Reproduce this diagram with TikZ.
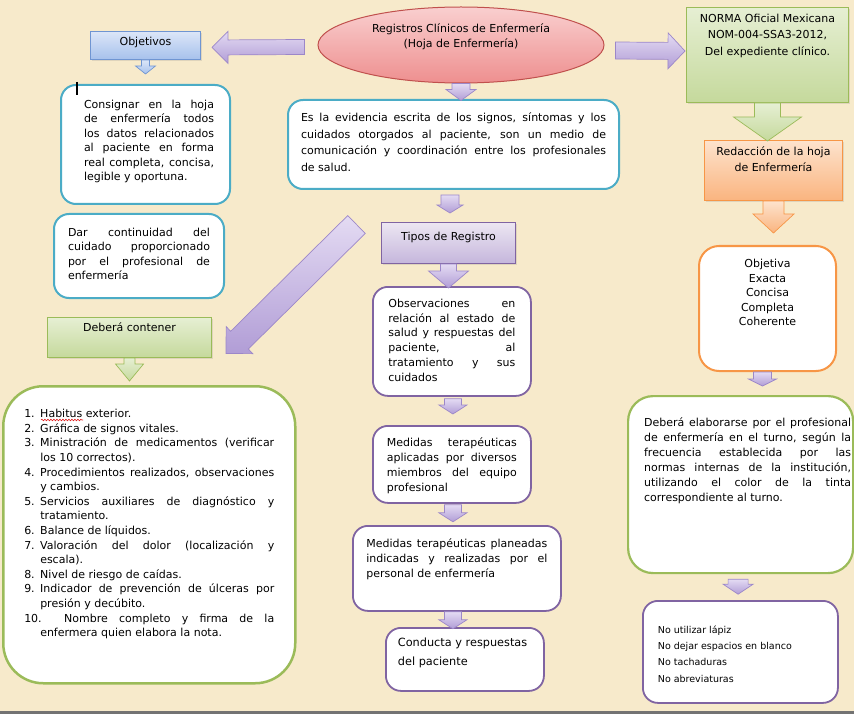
\documentclass[tikz,border=0pt]{standalone}
\usepackage{fontspec}
\setmainfont{DejaVu Sans}
\usetikzlibrary{shapes.geometric,calc,shadows,decorations.pathmorphing}

\definecolor{bg}{HTML}{F7EACB}
\definecolor{tealline}{HTML}{4BACC6}
\definecolor{purpline}{HTML}{8064A2}
\definecolor{greenline}{HTML}{9BBB59}
\definecolor{orangeline}{HTML}{F79646}
\definecolor{blueline}{HTML}{6F95D2}
\definecolor{redline}{HTML}{C0504D}
\definecolor{arrowtop}{HTML}{E4DBF3}
\definecolor{arrowbot}{HTML}{B19DD6}
\definecolor{arrowline}{HTML}{9C87C9}
\definecolor{bluetop}{HTML}{DCE6F8}
\definecolor{bluebot}{HTML}{A6C1EC}
\definecolor{greentop}{HTML}{E6EFD3}
\definecolor{greenbot}{HTML}{C5D99C}
\definecolor{orangetop}{HTML}{FDE3CD}
\definecolor{orangebot}{HTML}{FAB47F}
\definecolor{purptop}{HTML}{ECE6F2}
\definecolor{purpbot}{HTML}{C5B6DC}
\definecolor{redtop}{HTML}{F9CFCF}
\definecolor{redbot}{HTML}{EE8F8F}
\definecolor{spell}{HTML}{E02020}

\pretolerance=10000
\tolerance=10000
\hbadness=10000

\newcommand{\boxpar}[4][0]{\hspace*{#1pt}\parbox[c][#3pt][t]{#2pt}{#4}}
\newcommand{\litem}[1]{\par\hangindent=16pt\hangafter=1\noindent\makebox[16pt][l]{#1}}
\newcommand{\blockarrow}[6]{%
  \coordinate (ba-a) at #2;
  \coordinate (ba-b) at #3;
  \coordinate (ba-h) at ($(ba-b)!#6pt!(ba-a)$);
  \path[#1] ($(ba-a)!#4pt!90:(ba-b)$) -- ($(ba-h)!#4pt!90:(ba-b)$)
    -- ($(ba-h)!#5pt!90:(ba-b)$) -- (ba-b) -- ($(ba-h)!#5pt!-90:(ba-b)$)
    -- ($(ba-h)!#4pt!-90:(ba-b)$) -- ($(ba-a)!#4pt!-90:(ba-b)$) -- cycle;}

\tikzset{
  x=1pt, y=-1pt,
  box/.style={anchor=north west, inner sep=0pt, font=\fontsize{11}{14.5}\selectfont},
  tealbox/.style={box, draw=tealline, line width=2, fill=white, rounded corners=15},
  purpbox/.style={box, draw=purpline, line width=1.8, fill=white, rounded corners=15},
  greenbox/.style={box, draw=greenline, line width=2.2, fill=white, rounded corners=25},
  orangebox/.style={box, draw=orangeline, line width=2, fill=white, rounded corners=20},
  titled/.style={box, line width=1, font=\fontsize{11}{15}\selectfont,
    drop shadow={opacity=0.2, shadow xshift=1.5pt, shadow yshift=-1.5pt}},
  bluefill/.style={titled, draw=blueline, top color=bluetop, bottom color=bluebot},
  greenfill/.style={titled, draw=greenline, top color=greentop, bottom color=greenbot},
  orangefill/.style={titled, draw=orangeline, top color=orangetop, bottom color=orangebot},
  purpfill/.style={titled, draw=purpline, top color=purptop, bottom color=purpbot},
  parr/.style={draw=arrowline, line width=0.7, top color=arrowtop, bottom color=arrowbot},
  barr/.style={draw=blueline, line width=0.7, top color=bluetop, bottom color=bluebot},
  garr/.style={draw=greenline, line width=0.7, top color=greentop, bottom color=greenbot},
  oarr/.style={draw=orangeline, line width=0.7, top color=orangetop, bottom color=orangebot},
  spellmark/.style={draw=spell, line width=0.6, decorate,
    decoration={snake, amplitude=0.8pt, segment length=3pt}}
}

\begin{document}
\begin{tikzpicture}
\useasboundingbox (0,0) rectangle (854,714);
\fill[bg] (0,0) rectangle (854,711);
\fill[black!55] (0,711) rectangle (854,714);

\node[ellipse, draw=redline, line width=1, top color=redtop, bottom color=redbot,
  minimum width=286, minimum height=76, inner sep=0pt] (reg) at (461,45) {};
\node[font=\fontsize{11}{15}\selectfont, align=center] (reg-t) at (461,37)
  {Registros Clínicos de Enfermería\\(Hoja de Enfermería)};

\node[bluefill, inner xsep=5, inner ysep=6] (obj) at (90,31)
  {\boxpar{100}{16}{\centering Objetivos}};
\node[greenfill, inner xsep=5, inner ysep=6.5, font=\fontsize{11}{16.5}\selectfont] (norma) at (686,7)
  {\boxpar{152}{82}{\centering NORMA Oficial Mexicana\\NOM-004-SSA3-2012,\\Del expediente clínico.}};
\node[orangefill, inner xsep=5, inner ysep=6.6, font=\fontsize{11}{16}\selectfont] (redac) at (704,140)
  {\boxpar{128}{46.8}{\centering Redacción de la hoja\\de Enfermería}};
\node[orangebox, inner xsep=5, inner ysep=13.6, font=\fontsize{11}{14.5}\selectfont] (objv) at (698,245)
  {\boxpar{127}{97.8}{\centering Objetiva\\Exacta\\Concisa\\Completa\\Coherente}};
\node[greenbox, inner xsep=2, inner ysep=22, font=\fontsize{11}{15}\selectfont] (deb) at (627,395)
  {\boxpar[14]{207}{133}{Deberá elaborarse por el profesional\linebreak de enfermería en el turno, según la\linebreak
   frecuencia establecida por las\linebreak normas internas de la institución,\linebreak
   utilizando el color de la tinta\linebreak correspondiente al turno.}};
\node[purpbox, inner xsep=15, inner ysep=24.7, font=\fontsize{9.5}{16.3}\selectfont] (noes) at (642,600)
  {\boxpar{165}{52.6}{\raggedright No utilizar lápiz\\No dejar espacios en blanco\\No tachaduras\\No abreviaturas}};

\node[tealbox, inner xsep=13, inner ysep=13, font=\fontsize{11}{16.5}\selectfont] (evid) at (287,99)
  {\boxpar{305}{63}{Es la evidencia escrita de los signos, síntomas y los\linebreak
   cuidados otorgados al paciente, son un medio de\linebreak
   comunicación y coordinación entre los profesionales\linebreak de salud.}};
\node[purpfill, inner xsep=5, inner ysep=9.6] (tipos) at (381,222)
  {\boxpar{124}{21.8}{\centering Tipos de Registro}};
\node[purpbox, inner xsep=15.5, inner ysep=12, font=\fontsize{11}{14.8}\selectfont] (obs) at (372,286)
  {\boxpar{127}{85}{Observaciones en\linebreak relación al estado de\linebreak salud y respuestas del\linebreak
   paciente, al\linebreak tratamiento y sus\linebreak cuidados}};
\node[purpbox, inner xsep=14, inner ysep=12, font=\fontsize{11}{15}\selectfont] (med1) at (372,425)
  {\boxpar{130}{53}{Medidas terapéuticas\linebreak aplicadas por diversos\linebreak miembros del equipo\linebreak profesional}};
\node[purpbox, inner xsep=13.5, inner ysep=13, font=\fontsize{11}{15}\selectfont] (med2) at (352,525)
  {\boxpar{181}{59}{Medidas terapéuticas planeadas\linebreak indicadas y realizadas por el\linebreak personal de enfermería}};
\node[purpbox, inner xsep=12, inner ysep=10.5, font=\fontsize{11.3}{18.5}\selectfont] (cond) at (385,627)
  {\boxpar{134}{42}{\raggedright Conducta y respuestas\\del paciente}};

\node[tealbox, inner xsep=16, inner ysep=15] (cons) at (60,84)
  {\boxpar[7]{130}{89}{Consignar en la hoja\linebreak de enfermería todos\linebreak los datos relacionados\linebreak
   al paciente en forma\linebreak real completa, concisa,\linebreak legible y oportuna.}};
\node[tealbox, inner xsep=14, inner ysep=14] (dar) at (53,213)
  {\boxpar{142}{56}{Dar continuidad del\linebreak cuidado proporcionado\linebreak por el profesional de\linebreak enfermería}};
\node[greenfill, inner xsep=5, inner ysep=5.6] (debc) at (47,317)
  {\boxpar{154}{28.8}{\centering Deberá contener}};
\node[greenbox, inner xsep=21, inner ysep=23, rounded corners=40, line width=2.5,
  font=\fontsize{11}{14.6}\selectfont] (list) at (2,385)
  {\boxpar{250}{251}{%
   \litem{1.}Habitus exterior.
   \litem{2.}Gráfica de signos vitales.
   \litem{3.}Ministración de medicamentos (verificar\linebreak los 10 correctos).
   \litem{4.}Procedimientos realizados, observaciones\linebreak y cambios.
   \litem{5.}Servicios auxiliares de diagnóstico y\linebreak tratamiento.
   \litem{6.}Balance de líquidos.
   \litem{7.}Valoración del dolor (localización y\linebreak escala).
   \litem{8.}Nivel de riesgo de caídas.
   \litem{9.}Indicador de prevención de úlceras por\linebreak presión y decúbito.
   \litem{10.}\hspace{24pt}Nombre completo y firma de la\linebreak enfermera quien elabora la nota.}};

\draw[spellmark] ($(list.north west)+(39,35)$) -- ($(list.north west)+(81,35)$);
\draw[line width=1.3] (77,82) -- (77,95);

% flechas
\blockarrow{parr}{($(reg.west)+(-13,2)$)}{($(obj.east)+(11,2)$)}{7.5}{16}{16}
\blockarrow{parr}{($(reg.east)+(11,5.5)$)}{($(norma.west)+(-1,-4)$)}{8.5}{18}{17}
\blockarrow{barr}{(obj.south)}{($(obj.south)+(0,14)$)}{4}{10}{8}
\blockarrow{parr}{(reg.south)}{($(reg.south)+(0,17)$)}{9}{15}{11}
\blockarrow{parr}{($(tipos.north)+(1.5,-27)$)}{($(tipos.north)+(1.5,-9)$)}{9}{13}{8}
\blockarrow{parr}{(tipos.south)}{($(tipos.south)+(0,24)$)}{8}{20}{17}
\blockarrow{parr}{($(obs.south)+(1,2)$)}{($(med1.north)+(1,-11)$)}{8.5}{14}{9}
\blockarrow{parr}{($(med1.south)+(1,1)$)}{($(med1.south)+(1,18)$)}{8.5}{14}{9}
\blockarrow{parr}{($(med2.south)+(-4,0)$)}{($(med2.south)+(-4,17)$)}{8.5}{14}{9}
\blockarrow{garr}{(norma.south)}{($(norma.south)+(0,38)$)}{13}{34}{24}
\blockarrow{oarr}{(redac.south)}{($(redac.south)+(0,32)$)}{10.5}{20.5}{19}
\blockarrow{parr}{($(objv.south)+(-5,0)$)}{($(objv.south)+(-5,14)$)}{9}{14}{7}
\blockarrow{parr}{($(deb.south)+(-2.5,5)$)}{($(deb.south)+(-2.5,20)$)}{10}{15}{10}
\blockarrow{garr}{(debc.south)}{($(debc.south)+(0,23)$)}{5.5}{14}{17}
\blockarrow{parr}{($(tipos.west)+(-24.5,-18.5)$)}{($(debc.east)+(14,16)$)}{12.5}{19}{19}
\end{tikzpicture}
\end{document}
